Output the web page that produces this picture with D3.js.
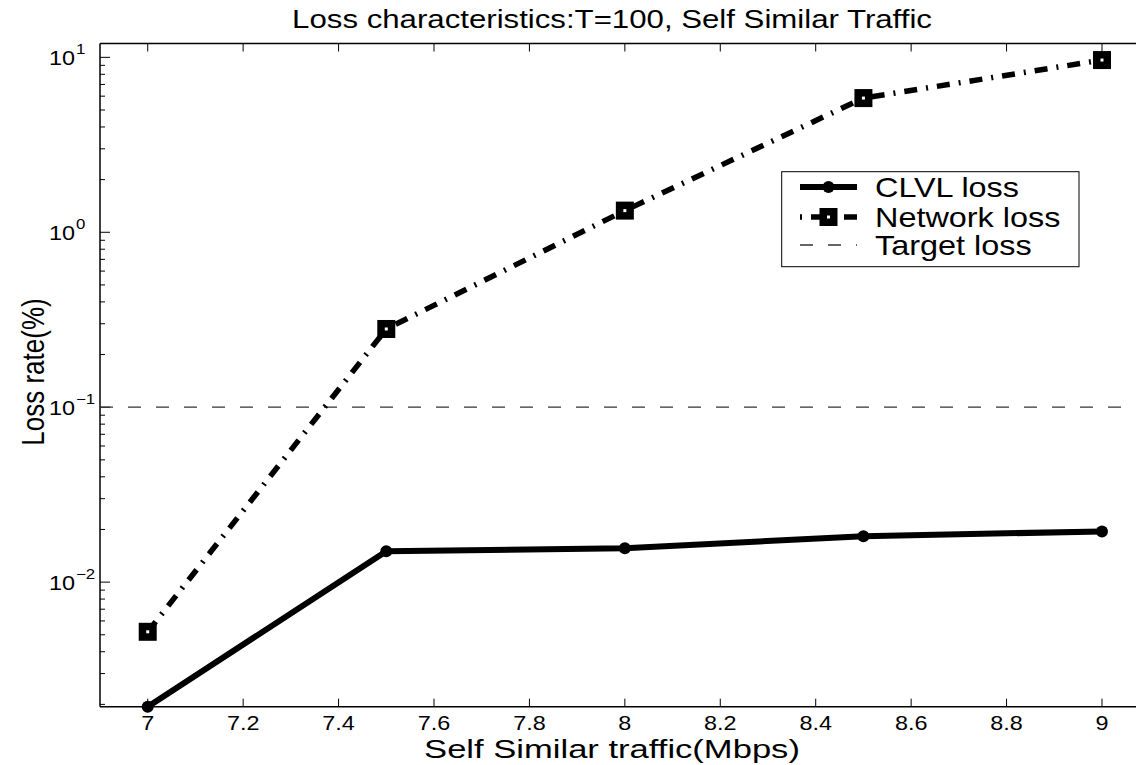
<!DOCTYPE html>
<html>
<head>
<meta charset="utf-8">
<script src="https://cdn.jsdelivr.net/npm/d3@7"></script>
<style>
  body { margin: 0; background: #fff; }
  svg { display: block; font-family: "Liberation Sans", Arial, sans-serif; }
</style>
</head>
<body>
<svg id="chart" width="1136" height="765"></svg>
<script>
// data
const traffic = [7, 7.5, 8, 8.5, 9];
const clvlLoss = [0.00194, 0.0150, 0.0156, 0.0183, 0.0195];
const networkLoss = [0.0052, 0.280, 1.33, 5.85, 9.65];
const targetLoss = 0.1;
const xTicks = [7, 7.2, 7.4, 7.6, 7.8, 8, 8.2, 8.4, 8.6, 8.8, 9];
const yTicks = [0.01, 0.1, 1, 10];
const yExponents = ["\u22122", "\u22121", "0", "1"];
const seriesNames = ["CLVL loss", "Network loss", "Target loss"];

const svg = d3.select("#chart");
const SX = 1.2; // text in the picture is stretched sideways

const plotL = 100, plotR = 1149.7, plotT = 43.5, plotB = 706.7;

const x = d3.scaleLinear().domain([6.9, 9.1]).range([plotL, plotR]);
const y = d3.scaleLog().domain([0.00194, 12]).range([plotB, plotT]);

function addText(parent, px, py, str, size, anchor, sx) {
    return parent.append("text")
        .attr("transform", `translate(${px},${py}) scale(${sx || SX},1)`)
        .attr("text-anchor", anchor || "middle")
        .attr("font-size", size)
        .attr("fill", "#000")
        .text(str);
}

// frame
const frame = svg.append("g").attr("stroke", "#000").attr("stroke-width", 1.5);
frame.append("line").attr("x1", plotL).attr("x2", plotL).attr("y1", plotT).attr("y2", plotB);
frame.append("line").attr("x1", plotR).attr("x2", plotR).attr("y1", plotT).attr("y2", plotB);
frame.append("line").attr("x1", plotL).attr("x2", plotR).attr("y1", plotB).attr("y2", plotB);
frame.append("line").attr("x1", plotL).attr("x2", plotR).attr("y1", plotT).attr("y2", plotT);

// x ticks (inward, top and bottom)
const ticks = svg.append("g").attr("stroke", "#000").attr("stroke-width", 1);
xTicks.forEach(t => {
    ticks.append("line").attr("x1", x(t)).attr("x2", x(t)).attr("y1", plotB).attr("y2", plotB - 8);
    ticks.append("line").attr("x1", x(t)).attr("x2", x(t)).attr("y1", plotT).attr("y2", plotT + 8);
    addText(svg, x(t), 730, String(t), 19.5);
});

// y ticks, major and minor
const [yLo, yHi] = y.domain();
for (let e = Math.floor(Math.log10(yLo)); e <= Math.ceil(Math.log10(yHi)); e++) {
    for (let m = 1; m <= 9; m++) {
        const v = m * Math.pow(10, e);
        if (v < yLo * 0.999 || v > yHi) continue;
        const len = m === 1 ? 10 : 5;
        ticks.append("line").attr("x1", plotL).attr("x2", plotL + len).attr("y1", y(v)).attr("y2", y(v));
        ticks.append("line").attr("x1", plotR).attr("x2", plotR - len).attr("y1", y(v)).attr("y2", y(v));
    }
}
yTicks.forEach((t, i) => {
    addText(svg, 75, y(t) + 8, "10", 19.5, "end");
    addText(svg, 76, y(t) - 3, yExponents[i], 14, "start");
});

// target line
svg.append("line")
    .attr("x1", plotL).attr("x2", plotR)
    .attr("y1", y(targetLoss)).attr("y2", y(targetLoss))
    .attr("stroke", "#333").attr("stroke-width", 1.3)
    .attr("stroke-dasharray", "13,15");

const line = d3.line().x(d => x(d[0])).y(d => y(d[1]));

// network loss
svg.append("path")
    .datum(traffic.map((t, i) => [t, networkLoss[i]]))
    .attr("d", line)
    .attr("fill", "none").attr("stroke", "#000").attr("stroke-width", 5.5)
    .attr("stroke-dasharray", "13,9,2,9");

// CLVL loss
svg.append("path")
    .datum(traffic.map((t, i) => [t, clvlLoss[i]]))
    .attr("d", line)
    .attr("fill", "none").attr("stroke", "#000").attr("stroke-width", 6)
    .attr("stroke-linejoin", "round");

function squareMarker(g, cx, cy, s) {
    g.append("rect").attr("x", cx - s / 2).attr("y", cy - s / 2).attr("width", s).attr("height", s).attr("fill", "#000");
    g.append("rect").attr("x", cx - 1.5).attr("y", cy - 1.5).attr("width", 3).attr("height", 3).attr("fill", "#fff");
}

const marks = svg.append("g");
traffic.forEach((t, i) => {
    squareMarker(marks, x(t), y(networkLoss[i]), 18);
    marks.append("circle").attr("cx", x(t)).attr("cy", y(clvlLoss[i])).attr("r", 6).attr("fill", "#000");
});

// legend
const lg = svg.append("g");
lg.append("rect").attr("x", 781.7).attr("y", 171.7).attr("width", 297.3).attr("height", 95)
    .attr("fill", "#fff").attr("stroke", "#000").attr("stroke-width", 1);
const rowY = [187, 217, 245];
lg.append("line").attr("x1", 800).attr("x2", 857).attr("y1", rowY[0]).attr("y2", rowY[0])
    .attr("stroke", "#000").attr("stroke-width", 6);
lg.append("circle").attr("cx", 828.5).attr("cy", rowY[0]).attr("r", 6).attr("fill", "#000");
lg.append("line").attr("x1", 800).attr("x2", 857).attr("y1", rowY[1]).attr("y2", rowY[1])
    .attr("stroke", "#000").attr("stroke-width", 5.5).attr("stroke-dasharray", "2,9,13,9");
squareMarker(lg, 828.5, rowY[1], 18);
lg.append("line").attr("x1", 800).attr("x2", 857).attr("y1", rowY[2]).attr("y2", rowY[2])
    .attr("stroke", "#333").attr("stroke-width", 1.3).attr("stroke-dasharray", "13,15");
seriesNames.forEach((n, i) => addText(lg, 875, rowY[i] + 10, n, 27, "start"));

// title and axis labels
addText(svg, 612, 28, "Loss characteristics:T=100, Self Similar Traffic", 26);
addText(svg, 612, 757.5, "Self Similar traffic(Mbps)", 26, "middle", 1.33);
svg.append("text")
    .attr("transform", `translate(44,372) rotate(-90) scale(1,${SX})`)
    .attr("text-anchor", "middle").attr("font-size", 26).attr("fill", "#000")
    .text("Loss rate(%)");
</script>
</body>
</html>
